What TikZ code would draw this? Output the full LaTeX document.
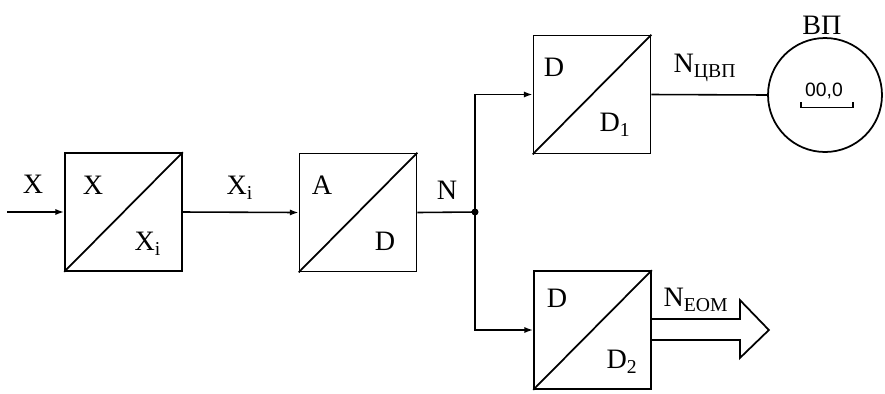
\documentclass[tikz,border=0pt]{standalone}
\usepackage{fontspec}
\setmainfont{Liberation Serif}
\newfontfamily\dispfont{Liberation Sans}
\usetikzlibrary{arrows.meta,calc,positioning}
\tikzset{
  blk/.style={draw,line width=1pt,minimum width=2.34cm,minimum height=2.36cm,inner sep=0pt},
  lbl/.style={inner sep=0pt,font=\fontsize{16}{19}\selectfont},
  arr/.style={line width=0.9pt,-{Latex[length=5pt,width=3.5pt]}}
}

\begin{document}
\begin{tikzpicture}[x=0.02cm,y=-0.02cm]
\useasboundingbox (0,0) rectangle (885,393);
\node[blk] (conv)  at (123.5,212) {};
\node[blk] (adc)   at (358,212.5) {};
\node[blk] (dcone) at (592,94.5) {};
\node[blk] (dctwo) at (592.5,330) {};
\node[draw,circle,line width=1pt,minimum size=2.28cm,inner sep=0pt] (disp) at (825,95) {};
\foreach \b in {conv,adc,dcone,dctwo} \draw[line width=1pt] (\b.south west) -- (\b.north east);
\coordinate (in) at (7,212);
\coordinate (jn) at (475,212);
\draw[arr] (in) -- (conv.west);
\draw[arr] (conv.east) -- (adc.west);
\draw[line width=0.9pt] (adc.east) -- (jn);
\fill (jn) circle (3.5);
\draw[arr] (jn) |- (dcone.west);
\draw[arr] (jn) |- (dctwo.west);
\draw[line width=0.9pt] (dcone.east) -- (disp.west);
\draw[line width=1pt] ($(dctwo.east)+(0,-11)$) -- ++(88,0) -- ++(0,-19) -- ++(29,30)
  -- ++(-29,28) -- ++(0,-18) -- ++(-88,0);
\draw[line width=0.9pt] (801,102) -- (801,107.5) -- (853,107.5) -- (853,102);
\node[lbl] (tx)    at (33,184)  {X};
\node[lbl] (tconx) at (93,185)  {X};
\node[lbl] (tconi) at (148,244) {X\textsubscript{i}};
\node[lbl] (txi)   at (240,188) {X\textsubscript{i}};
\node[lbl] (ta)    at (322,185) {A};
\node[lbl] (td)    at (385,241) {D};
\node[lbl] (tn)    at (447,190) {N};
\node[lbl] (tdone) at (554,67)  {D};
\node[lbl] (tdo)   at (615,125) {D\textsubscript{1}};
\node[lbl] (tdtwo) at (557,298) {D};
\node[lbl] (tdt)   at (622,362) {D\textsubscript{2}};
\node[lbl] (tncvp) at (705,68)  {N\textsubscript{ЦВП}};
\node[lbl] (tneom) at (696,300) {N\textsubscript{EOM}};
\node[lbl] (tvp)   at (822,25)  {ВП};
\node[inner sep=0pt,font=\dispfont\fontsize{11}{13}\selectfont] (tval) at (824,91) {00,0};
\end{tikzpicture}
\end{document}
